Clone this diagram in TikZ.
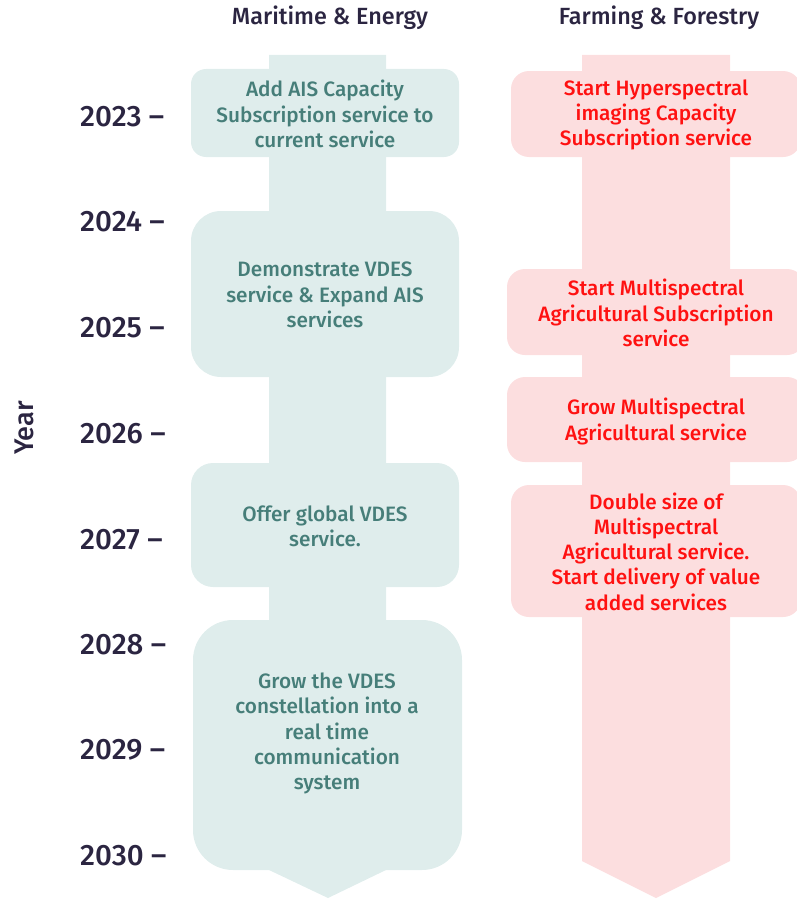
\documentclass[tikz,border=0pt]{standalone}
\usepackage{fontspec}
\setmainfont{Fira Sans Medium}
\usetikzlibrary{positioning}
\definecolor{tealfill}{HTML}{DFEDEC}
\definecolor{tealtext}{HTML}{467E79}
\definecolor{pinkfill}{HTML}{FCDEDF}
\definecolor{redtext}{HTML}{FF1111}
\definecolor{navy}{HTML}{2B2541}
\begin{document}
\begin{tikzpicture}[x=1pt,y=-1pt,
  lbox/.style={fill=tealfill,draw=none,inner sep=0pt},
  rbox/.style={fill=pinkfill,draw=none,inner sep=0pt},
  ltext/.style={text=tealtext,align=center,font=\fontsize{20.8}{25.3}\selectfont,inner sep=0pt},
  rtext/.style={text=redtext,align=center,font=\fontsize{20.8}{25.3}\selectfont,inner sep=0pt},
  yearlbl/.style={text=navy,anchor=west,font=\fontsize{29.5}{30}\selectfont,inner sep=0pt},
  header/.style={text=navy,font=\fontsize{23.4}{24}\selectfont,inner sep=0pt}
]
\useasboundingbox (0,0) rectangle (797,899);
% arrows (shafts)
\fill[tealfill] (269,55) -- (386,55) -- (386,870) -- (328,898) -- (269,870) -- cycle;
\fill[pinkfill] (582,55) -- (730,55) -- (730,861) -- (656,898) -- (582,861) -- cycle;
% left boxes
\fill[lbox,rounded corners=15pt] (191,69) rectangle (459,157);
\fill[lbox,rounded corners=30pt] (191,211) rectangle (459,377);
\fill[lbox,rounded corners=22pt] (191,463) rectangle (459,587);
\fill[lbox,rounded corners=40pt] (193,620) rectangle (462,870);
% right boxes
\fill[rbox,rounded corners=18pt] (511,71) rectangle (801,157);
\fill[rbox,rounded corners=18pt] (507,269) rectangle (805,355);
\fill[rbox,rounded corners=18pt] (507,377) rectangle (805,462);
\fill[rbox,rounded corners=18pt] (511,485) rectangle (801,617);
% left texts
\node[ltext] (l1) at (325,114) {Add AIS Capacity\\Subscription service to\\current service};
\node[ltext] (l2) at (325,295) {Demonstrate VDES\\service \& Expand AIS\\services};
\node[ltext] (l3) at (325,526.5) {Offer global VDES\\service.};
\node[ltext] (l4) at (327,733.5) {Grow the VDES\\constellation into a\\real time\\communication\\system};
% right texts
\node[rtext] (r1) at (656,115) {Start Hyperspectral\\imaging Capacity\\Subscription service};
\node[rtext] (r2) at (656,313) {Start Multispectral\\Agricultural Subscription\\service};
\node[rtext] (r3) at (656,421.5) {Grow Multispectral\\Agricultural service};
\node[rtext] (r4) at (656,551.5) {Double size of\\Multispectral\\Agricultural service.\\Start delivery of value\\added services};
% headers
\node[header] (h1) at (330,18) {Maritime \& Energy};
\node[header] (h2) at (659,18) {Farming \& Forestry};
% years
\foreach \yr/\yy in {2023/117,2024/222,2025/328,2026/434,2027/540,2028/645,2029/750,2030/856}{
  \node[yearlbl] (y\yr) at (80,\yy) {\yr\ –};
}
\node[header,rotate=90,font=\fontsize{27}{30}\selectfont] (yearaxis) at (24,428) {Year};
\end{tikzpicture}
\end{document}
